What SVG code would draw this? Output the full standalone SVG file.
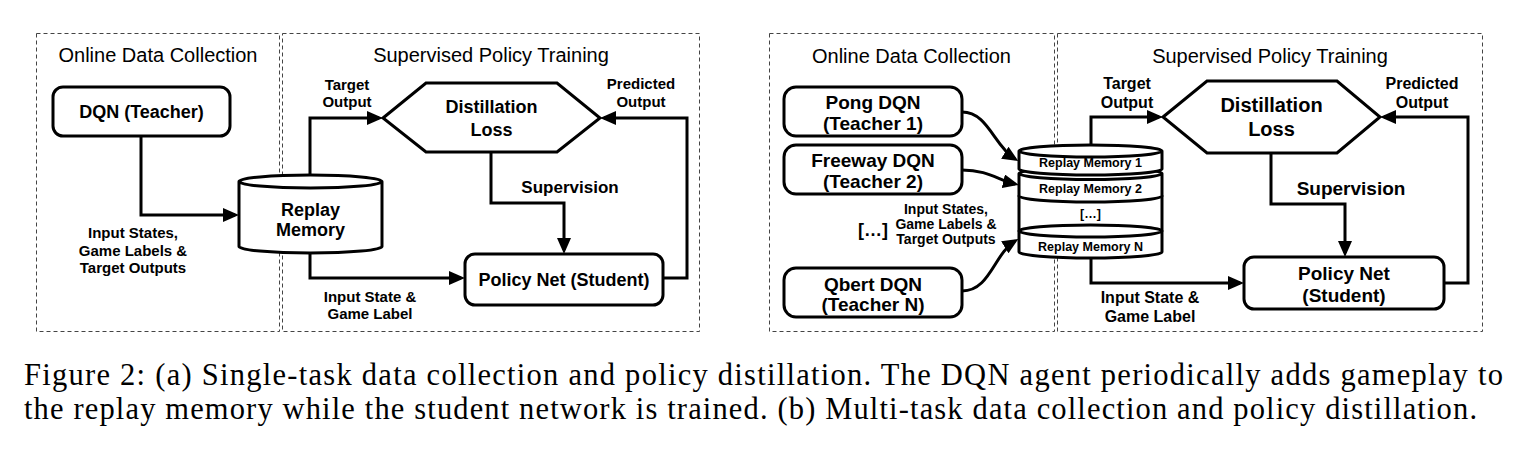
<svg xmlns="http://www.w3.org/2000/svg" width="1524" height="460" viewBox="0 0 1524 460">
<defs>
<marker id="ah" viewBox="0 0 16 14" refX="12" refY="7" markerWidth="16" markerHeight="14" orient="auto" markerUnits="userSpaceOnUse"><path d="M0,0 L16,7 L0,14 z" fill="#000"/></marker>
</defs>
<style>
.panel{fill:none;stroke:#444;stroke-width:1;stroke-dasharray:4 3}
.title{font-family:"Liberation Sans",Arial,sans-serif;font-size:20px;text-anchor:middle;fill:#000}
.node{fill:#fff;stroke:#000;stroke-width:3}
.nt{font-family:"Liberation Sans",Arial,sans-serif;font-weight:bold;text-anchor:middle;fill:#000}
.conn{fill:none;stroke:#000;stroke-width:3;marker-end:url(#ah)}
.line{fill:none;stroke:#000;stroke-width:3}
.cap{font-family:"Liberation Serif","Times New Roman",serif;font-size:30.5px;fill:#000}
</style>
<rect x="0" y="0" width="1524" height="460" fill="#fff"/>

<!-- Figure (a) -->
<g id="a-panels">
<rect class="panel" x="36.5" y="33.5" width="243" height="298"/>
<rect class="panel" x="282.5" y="33.5" width="417" height="298"/>
<text class="title" x="158" y="62">Online Data Collection</text>
<text class="title" x="491" y="62">Supervised Policy Training</text>
</g>

<g id="a-connectors">
<path class="conn" d="M141,136 V215 H235"/>
<path class="conn" d="M310,175 V118 H379"/>
<path class="conn" d="M491,152 V203 H564 V250"/>
<path class="conn" d="M663,278 H687 V118 H604"/>
<path class="conn" d="M310,253 V278 H461"/>
<g class="nt" font-size="15">
<text x="347" y="90">Target</text><text x="347" y="107">Output</text>
<text x="641" y="89">Predicted</text><text x="641" y="107">Output</text>
<text x="133" y="238">Input States,</text><text x="133" y="256">Game Labels &amp;</text><text x="133" y="273">Target Outputs</text>
<text x="370" y="302">Input State &amp;</text><text x="370" y="319">Game Label</text>
</g>
<text class="nt" font-size="17" x="570" y="193">Supervision</text>
</g>

<g id="a-dqn">
<rect class="node" x="53" y="87" width="177" height="49" rx="10"/>
<text class="nt" font-size="18" x="141.5" y="118">DQN (Teacher)</text>
</g>
<g id="a-replay">
<path class="node" d="M239,181.5 V246.5 A71.5,6.5 0 0 0 382,246.5 V181.5 A71.5,6.5 0 0 0 239,181.5 Z M239,181.5 A71.5,6.5 0 0 0 382,181.5"/>
<text class="nt" font-size="18" x="310.5" y="216">Replay</text>
<text class="nt" font-size="18" x="310.5" y="236">Memory</text>
</g>
<g id="a-loss">
<polygon class="node" points="383,118 426,83 557,83 600,118 557,152 426,152"/>
<text class="nt" font-size="18" x="491.5" y="113">Distillation</text>
<text class="nt" font-size="18" x="491.5" y="136">Loss</text>
</g>
<g id="a-policy">
<rect class="node" x="465" y="254" width="198" height="51" rx="10"/>
<text class="nt" font-size="18" x="564" y="286">Policy Net (Student)</text>
</g>

<!-- Figure (b) -->
<g id="b-panels">
<rect class="panel" x="769.5" y="33.5" width="285" height="298"/>
<rect class="panel" x="1057.5" y="33.5" width="425" height="298"/>
<text class="title" x="911.5" y="63">Online Data Collection</text>
<text class="title" x="1270" y="63">Supervised Policy Training</text>
</g>

<g id="b-connectors">
<path class="conn" d="M962,112 C988,112 994,146 1015,159"/>
<path class="conn" d="M962,170 C988,170 998,180 1015,184"/>
<path class="conn" d="M962,291 C990,291 994,254 1015,241"/>
<path class="conn" d="M1091,145 V117 H1159"/>
<path class="conn" d="M1271,153 V204 H1345 V253"/>
<path class="conn" d="M1444,283 H1468 V117 H1384"/>
<path class="conn" d="M1091,258 V283 H1240"/>
<g class="nt" font-size="16">
<text x="1127" y="89">Target</text><text x="1127" y="108">Output</text>
<text x="1422" y="89">Predicted</text><text x="1422" y="108">Output</text>
<text x="1150" y="303">Input State &amp;</text><text x="1150" y="322">Game Label</text>
</g>
<g class="nt" font-size="14">
<text x="946" y="214">Input States,</text><text x="946" y="229">Game Labels &amp;</text><text x="946" y="244">Target Outputs</text>
</g>
<text class="nt" font-size="19" x="1351" y="195">Supervision</text>
</g>

<g id="b-pong">
<rect class="node" x="784" y="87" width="178" height="49" rx="12"/>
<text class="nt" font-size="19" x="873" y="109">Pong DQN</text>
<text class="nt" font-size="19" x="873" y="130">(Teacher 1)</text>
</g>
<g id="b-freeway">
<rect class="node" x="784" y="145" width="178" height="49" rx="12"/>
<text class="nt" font-size="19" x="873" y="167">Freeway DQN</text>
<text class="nt" font-size="19" x="873" y="188">(Teacher 2)</text>
</g>
<text class="nt" font-size="18" x="873" y="236">[…]</text>
<g id="b-qbert">
<rect class="node" x="784" y="268" width="178" height="49" rx="12"/>
<text class="nt" font-size="19" x="873" y="291">Qbert DQN</text>
<text class="nt" font-size="19" x="873" y="311">(Teacher N)</text>
</g>

<g id="b-replay">
<path class="node" d="M1019,196 V231 A71.5,6 0 0 0 1162,231 V196 A71.5,6 0 0 0 1019,196 Z"/>
<path class="node" d="M1019,173.5 V196 A71.5,6 0 0 0 1162,196 V173.5 A71.5,6 0 0 0 1019,173.5 Z M1019,173.5 A71.5,6 0 0 0 1162,173.5"/>
<path class="node" d="M1019,151 V169 A71.5,6 0 0 0 1162,169 V151 A71.5,6 0 0 0 1019,151 Z M1019,151 A71.5,6 0 0 0 1162,151"/>
<path class="node" d="M1019,231 V252 A71.5,6 0 0 0 1162,252 V231 A71.5,6 0 0 0 1019,231 Z M1019,231 A71.5,6 0 0 0 1162,231"/>
<g class="nt" font-size="12.5">
<text x="1090.5" y="167">Replay Memory 1</text>
<text x="1090.5" y="193">Replay Memory 2</text>
<text x="1090.5" y="218">[…]</text>
<text x="1090.5" y="251">Replay Memory N</text>
</g>
</g>
<g id="b-loss">
<polygon class="node" points="1163,117 1207,81 1337,81 1380,117 1337,153 1207,153"/>
<text class="nt" font-size="20" x="1271.5" y="112">Distillation</text>
<text class="nt" font-size="20" x="1271.5" y="136">Loss</text>
</g>
<g id="b-policy">
<rect class="node" x="1244" y="257" width="200" height="52" rx="10"/>
<text class="nt" font-size="19" x="1344" y="280">Policy Net</text>
<text class="nt" font-size="19" x="1344" y="302">(Student)</text>
</g>

<g id="caption">
<text class="cap" x="24" y="385" textLength="1479" lengthAdjust="spacing">Figure 2: (a) Single-task data collection and policy distillation. The DQN agent periodically adds gameplay to</text>
<text class="cap" x="24" y="419" textLength="1453" lengthAdjust="spacing">the replay memory while the student network is trained. (b) Multi-task data collection and policy distillation.</text>
</g>
</svg>
